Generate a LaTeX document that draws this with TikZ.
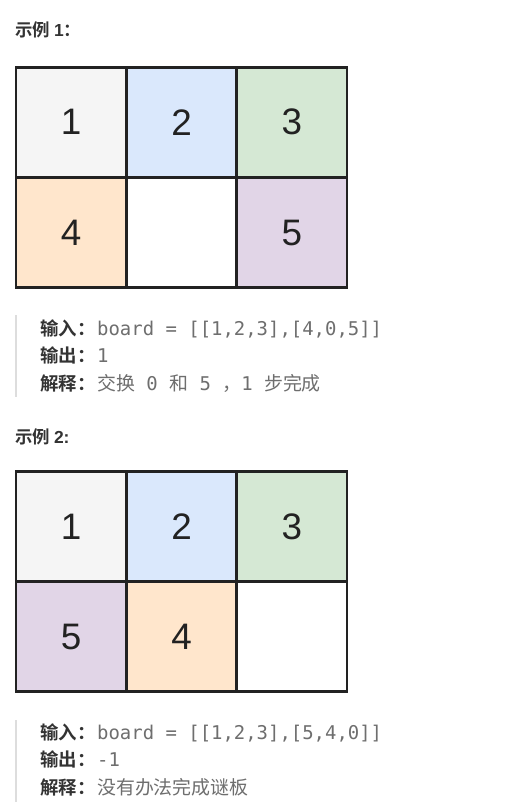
\documentclass[tikz,border=0pt]{standalone}
\usepackage{fontspec}
\setmainfont{Liberation Sans}
\newfontfamily\cjk{Noto Sans CJK SC}
\newfontfamily\cjkb{Noto Sans CJK SC Bold}
\newfontfamily\mono{DejaVu Sans Mono}
\definecolor{cA}{HTML}{F5F5F5}
\definecolor{cB}{HTML}{DAE8FC}
\definecolor{cC}{HTML}{D5E8D4}
\definecolor{cD}{HTML}{FFE6CC}
\definecolor{cE}{HTML}{E1D5E7}
\definecolor{cellline}{HTML}{222222}
\definecolor{digit}{HTML}{222222}
\definecolor{labcol}{HTML}{333333}
\definecolor{codecol}{HTML}{6E6E6E}
\definecolor{barcol}{HTML}{DDDDDD}
\newcommand{\cd}[1]{{\mono #1}}
\newcommand{\lt}[1]{{\rmfamily\bfseries #1}}
\begin{document}
\begin{tikzpicture}[x=1bp,y=-1bp,
  cell/.style={draw=cellline, line width=2.6bp, minimum width=110.3bp, minimum height=110bp,
    inner sep=0pt, font=\fontsize{37}{37}\selectfont, text=digit},
  title/.style={anchor=base west, inner sep=0pt, text=labcol, font=\cjkb\fontsize{17.5}{17.5}\selectfont},
  lab/.style={anchor=base west, inner sep=0pt, text=labcol, font=\cjkb\fontsize{18.5}{18.5}\selectfont},
  code/.style={anchor=base west, inner sep=0pt, text=codecol, font=\cjk\fontsize{19}{19}\selectfont},
  quotebar/.style={draw=barcol, line width=2bp}]
\useasboundingbox[fill=white] (0,0) rectangle (526,810);

% Example 1
\node[title] (t1) at (15,37) {示例 \lt{1}：};
\node[cell, fill=cA] (a11) at (71.2,122.3) {1};
\node[cell, fill=cB] (a12) at (181.5,122.3) {2};
\node[cell, fill=cC] (a13) at (291.8,122.3) {3};
\node[cell, fill=cD] (a21) at (71.2,232.7) {4};
\node[cell, fill=white] (a22) at (181.5,232.7) {};
\node[cell, fill=cE] (a23) at (291.8,232.7) {5};

\draw[quotebar] (16,315) -- (16,397);
\node[lab] (i1) at (40,335) {输入：};
\node[code] (v1) at (97,335) {\cd{board = [[1,2,3],[4,0,5]]}};
\node[lab] (o1) at (40,362.5) {输出：};
\node[code] (w1) at (97,362.5) {\cd{1}};
\node[lab] (e1) at (40,390) {解释：};
\node[code] (x1) at (97,390) {交换\cd{ 0 }和\cd{ 5 }，\cd{1 }步完成};

% Example 2
\node[title] (t2) at (15,443) {示例 \lt{2:}};
\node[cell, fill=cA] (b11) at (71.2,526.7) {1};
\node[cell, fill=cB] (b12) at (181.5,526.7) {2};
\node[cell, fill=cC] (b13) at (291.8,526.7) {3};
\node[cell, fill=cE] (b21) at (71.2,636.5) {5};
\node[cell, fill=cD] (b22) at (181.5,636.5) {4};
\node[cell, fill=white] (b23) at (291.8,636.5) {};

\draw[quotebar] (16,720) -- (16,802);
\node[lab] (i2) at (40,739) {输入：};
\node[code] (v2) at (97,739) {\cd{board = [[1,2,3],[5,4,0]]}};
\node[lab] (o2) at (40,766.5) {输出：};
\node[code] (w2) at (97,766.5) {\cd{-1}};
\node[lab] (e2) at (40,794) {解释：};
\node[code] (x2) at (97,794) {没有办法完成谜板};
\end{tikzpicture}
\end{document}
